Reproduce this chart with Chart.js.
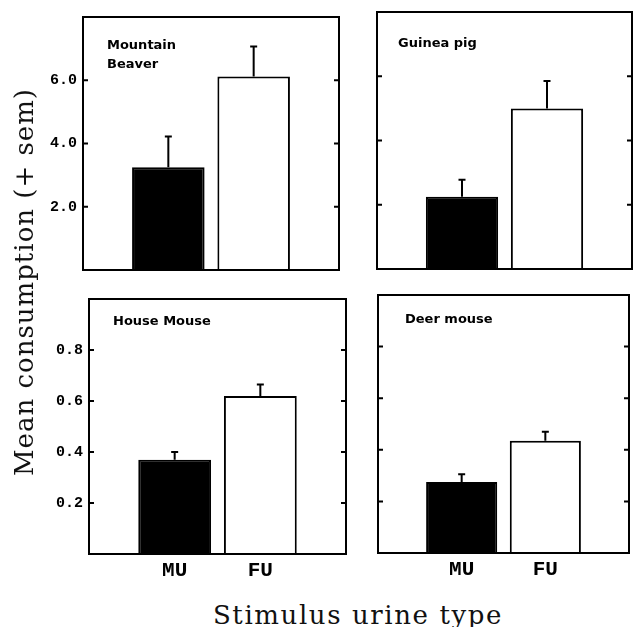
<!DOCTYPE html>
<html><head><meta charset="utf-8">
<script src="https://cdn.jsdelivr.net/npm/chart.js@4.4.1/dist/chart.umd.min.js"></script>
<style>
html,body{margin:0;padding:0;background:#fff;width:633px;height:627px;overflow:hidden;position:relative}
canvas{position:absolute}
.pt{position:absolute;font:bold 13px "DejaVu Sans";line-height:19px;color:#000;white-space:pre}
.ax{position:absolute;font:26px "DejaVu Serif";line-height:32px;color:#111;white-space:nowrap}
</style></head><body>
<canvas id="c0"></canvas><canvas id="c1"></canvas><canvas id="c2"></canvas><canvas id="c3"></canvas>
<div class="pt" id="t0"></div><div class="pt" id="t1"></div><div class="pt" id="t2"></div><div class="pt" id="t3"></div>
<div class="ax" id="ytitle"></div><div class="ax" id="xtitle"></div>
<script>
// ---- data ----
const categories = ['MU', 'FU'];
const panelNames = ['Mountain\nBeaver', 'Guinea pig', 'House Mouse', 'Deer mouse'];
const beaverMean = [3.25, 6.12];
const beaverSem  = [0.97, 0.95];
const guineaMean = [2.25, 5.0];
const guineaSem  = [0.53, 0.85];
const houseMean  = [0.37, 0.62];
const houseSem   = [0.03, 0.045];
const deerMean   = [0.275, 0.435];
const deerSem    = [0.03, 0.035];
const topTicks    = [2, 4, 6];
const bottomTicks = [0.2, 0.4, 0.6, 0.8];
const yTitle = 'Mean consumption (+ sem)';
const xTitle = 'Stimulus urine type';

// ---- layout (positions only) ----
const Y_W = 50;
const panels = [
  {mean: beaverMean, sem: beaverSem, ticks: topTicks, max: 8, left: 33, top: 2, w: 310, h: 298, padR: 4, xH: 30, showX: false, showY: true, tl: [107, 34.5]},
  {mean: guineaMean, sem: guineaSem, ticks: topTicks, max: 8, left: 327, top: 0, w: 306, h: 299, padR: 1, xH: 30, showX: false, showY: false, tl: [398, 32.5]},
  {mean: houseMean, sem: houseSem, ticks: bottomTicks, max: 1.0, left: 39, top: 284, w: 311, h: 310, padR: 4, xH: 40, showX: true, showY: true, tl: [113, 310.5]},
  {mean: deerMean, sem: deerSem, ticks: bottomTicks, max: 1.0, left: 328, top: 283, w: 305, h: 310, padR: 1, xH: 40, showX: true, showY: false, tl: [405, 308.5]}
];

const deco = {
  id: 'deco',
  afterDatasetsDraw(chart, args, opts) {
    const ctx = chart.ctx, a = chart.chartArea, ys = chart.scales.y;
    const meta = chart.getDatasetMeta(0);
    const vals = chart.data.datasets[0].data;
    ctx.save();
    ctx.strokeStyle = '#000';
    ctx.lineWidth = 2;
    meta.data.forEach((el, i) => {
      const v = vals[i], s = opts.sem[i];
      if (v == null || s == null) return;
      const yt = ys.getPixelForValue(v + s);
      ctx.beginPath();
      ctx.moveTo(el.x, el.y); ctx.lineTo(el.x, yt);
      ctx.moveTo(el.x - 3.5, yt); ctx.lineTo(el.x + 3.5, yt);
      ctx.stroke();
    });
    ctx.strokeRect(a.left, a.top, a.right - a.left, a.bottom - a.top);
    opts.ticks.forEach(v => {
      const y = ys.getPixelForValue(v);
      ctx.beginPath();
      ctx.moveTo(a.left, y); ctx.lineTo(a.left + 5, y);
      ctx.moveTo(a.right - 5, y); ctx.lineTo(a.right, y);
      ctx.stroke();
    });
    ctx.restore();
  }
};

panels.forEach((p, k) => {
  const cv = document.getElementById('c' + k);
  cv.width = p.w; cv.height = p.h;
  cv.style.left = p.left + 'px'; cv.style.top = p.top + 'px';
  const labels = [''].concat(categories, ['']);
  const data = [null].concat(p.mean, [null]);
  const sem = [null].concat(p.sem, [null]);
  new Chart(cv, {
    type: 'bar',
    data: {
      labels: labels,
      datasets: [{
        data: data,
        backgroundColor: ['#000', '#000', '#fff', '#fff'],
        borderColor: '#000',
        borderWidth: 2,
        categoryPercentage: 0.85,
        barPercentage: 1
      }]
    },
    options: {
      responsive: false,
      animation: false,
      devicePixelRatio: 1,
      layout: {padding: {top: 12, right: p.padR, left: 0, bottom: 0}},
      plugins: {legend: {display: false}, tooltip: {enabled: false}, deco: {sem: sem, ticks: p.ticks}},
      scales: {
        x: {
          type: 'category',
          offset: false,
          grid: {display: false, drawTicks: false},
          border: {display: false},
          ticks: {display: p.showX, autoSkip: false, maxRotation: 0, padding: 4, color: '#000',
                  font: {family: 'Liberation Mono', size: 21, weight: 'bold'}},
          afterFit(s) { s.height = p.xH; }
        },
        y: {
          min: 0, max: p.max,
          grid: {display: false, drawTicks: false},
          border: {display: false},
          ticks: {display: p.showY, padding: 6, color: '#000', font: {family: 'Liberation Mono', size: 15, weight: 'bold'},
                  callback: v => Number(v).toFixed(1)},
          afterBuildTicks(s) { s.ticks = p.ticks.map(v => ({value: v})); },
          afterFit(s) { s.width = Y_W; }
        }
      }
    },
    plugins: [deco]
  });
  const t = document.getElementById('t' + k);
  t.textContent = panelNames[k];
  t.style.left = p.tl[0] + 'px'; t.style.top = p.tl[1] + 'px';
});

const yt = document.getElementById('ytitle');
yt.textContent = yTitle;
yt.style.letterSpacing = '1px';
yt.style.left = '24px'; yt.style.top = '281.5px';
yt.style.transform = 'translate(-50%,-50%) rotate(-90deg)';
const xt = document.getElementById('xtitle');
xt.textContent = xTitle;
xt.style.letterSpacing = '1.6px';
xt.style.left = '358px'; xt.style.top = '599px';
xt.style.transform = 'translateX(-50%)';
</script>
</body></html>
